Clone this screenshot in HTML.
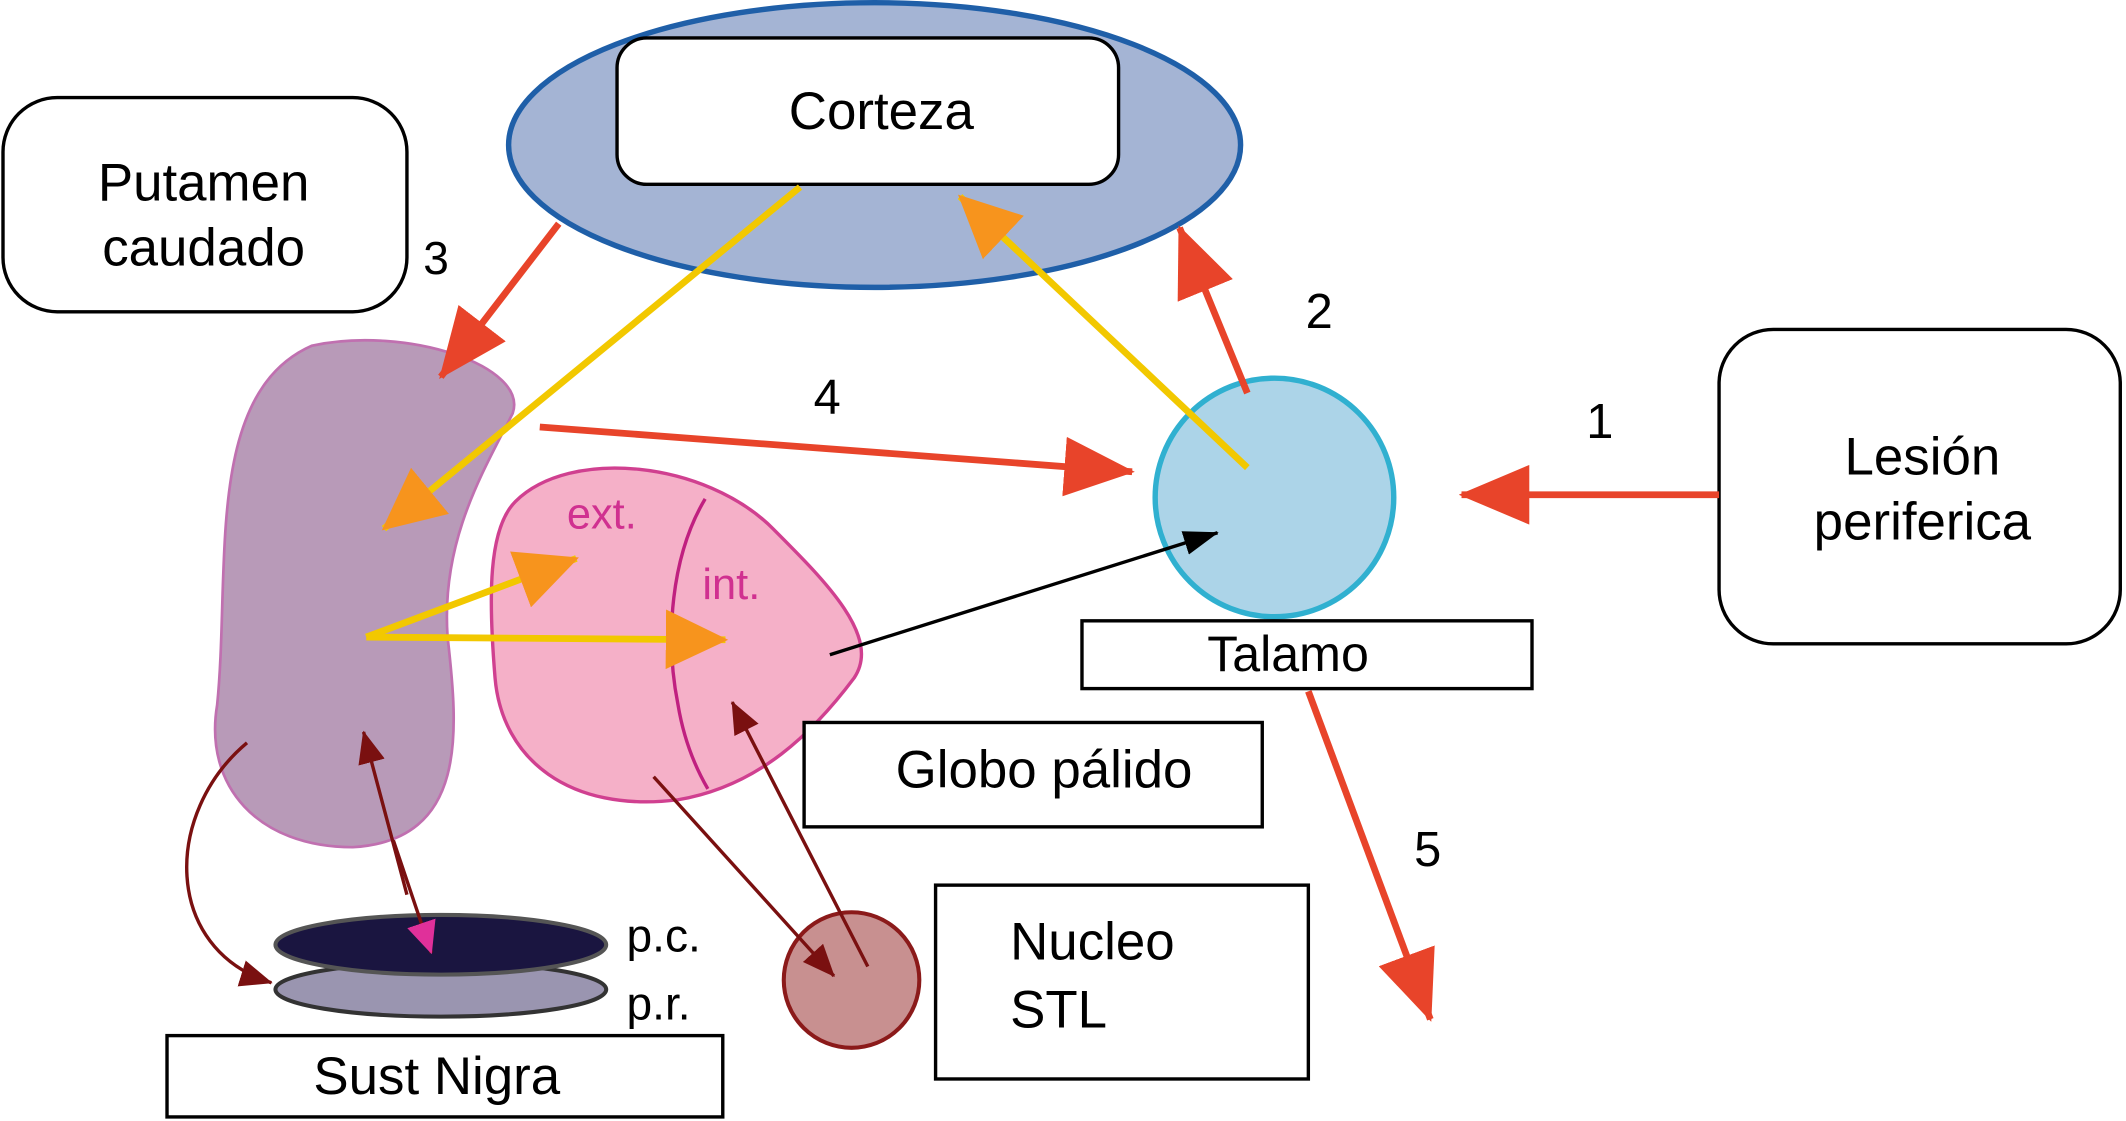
<!DOCTYPE html>
<html><head><meta charset="utf-8"><style>html,body{margin:0;padding:0;background:#fff}svg{display:block}text{font-family:"Liberation Sans",sans-serif}</style></head><body>
<svg width="2126" height="1121" viewBox="0 0 1568 827" xmlns="http://www.w3.org/2000/svg">
<defs>
<marker id="r" markerUnits="userSpaceOnUse" markerWidth="52" markerHeight="44" refX="50" refY="22" orient="auto"><path d="M0,0 L52,22 L0,44 Z" fill="#e8442a"/></marker>
<marker id="o" markerUnits="userSpaceOnUse" markerWidth="46" markerHeight="44" refX="44" refY="22" orient="auto"><path d="M0,0 L46,22 L0,44 Z" fill="#f7941d"/></marker>
<marker id="k" markerUnits="userSpaceOnUse" markerWidth="26" markerHeight="18" refX="25" refY="9" orient="auto"><path d="M0,0 L26,9 L0,18 Z" fill="#000"/></marker>
<marker id="d" markerUnits="userSpaceOnUse" markerWidth="24" markerHeight="20" refX="23" refY="10" orient="auto"><path d="M0,0 L24,10 L0,20 Z" fill="#7a1010"/></marker>
<marker id="m" markerUnits="userSpaceOnUse" markerWidth="24" markerHeight="22" refX="23" refY="11" orient="auto"><path d="M0,0 L24,11 L0,22 Z" fill="#e0309a"/></marker>
</defs>
<ellipse cx="645" cy="107" rx="270" ry="105" fill="#a4b4d4" stroke="#1f5fa8" stroke-width="4"/>
<rect x="455" y="28" width="370" height="108" rx="22" fill="#fff" stroke="#000" stroke-width="2.5"/>
<text x="650" y="95" font-size="39" text-anchor="middle">Corteza</text>
<rect x="2" y="72" width="298" height="158" rx="40" fill="#fff" stroke="#000" stroke-width="2.5"/>
<text x="150" y="148" font-size="39" text-anchor="middle">Putamen</text>
<text x="150" y="196" font-size="39" text-anchor="middle">caudado</text>
<text x="312" y="202" font-size="34">3</text>
<path d="M230,255 C300,240 390,270 378,305 C355,350 325,400 330,470 C338,540 345,620 260,625 C190,625 150,580 160,520 C170,420 150,290 230,255 Z" fill="#b89ab8" stroke="#c070b0" stroke-width="2"/>
<path d="M380,370 C420,330 520,340 570,390 C610,430 650,470 630,500 C600,540 560,580 500,590 C420,600 370,560 365,500 C360,440 360,390 380,370 Z" fill="#f5b0c8" stroke="#d04090" stroke-width="2.5"/>
<path d="M520,368 C495,410 490,470 500,520 C505,550 515,570 522,582" fill="none" stroke="#c02080" stroke-width="2.5"/>
<text x="418" y="390" font-size="32" fill="#d03090">ext.</text>
<text x="518" y="442" font-size="32" fill="#d03090">int.</text>
<circle cx="940" cy="367" r="88" fill="#acd4e8" stroke="#30b0d0" stroke-width="4"/>
<rect x="798" y="458" width="332" height="50" fill="#fff" stroke="#000" stroke-width="2.5"/>
<text x="950" y="495" font-size="37" text-anchor="middle">Talamo</text>
<rect x="1268" y="243" width="296" height="232" rx="40" fill="#fff" stroke="#000" stroke-width="2.5"/>
<text x="1418" y="350" font-size="39" text-anchor="middle">Lesión</text>
<text x="1418" y="398" font-size="39" text-anchor="middle">periferica</text>
<text x="1170" y="323" font-size="36">1</text>
<text x="963" y="242" font-size="36">2</text>
<text x="600" y="305" font-size="36">4</text>
<text x="1043" y="639" font-size="36">5</text>
<rect x="593" y="533" width="338" height="77" fill="#fff" stroke="#000" stroke-width="2.5"/>
<text x="770" y="581" font-size="39" text-anchor="middle">Globo pálido</text>
<rect x="690" y="653" width="275" height="143" fill="#fff" stroke="#000" stroke-width="2.5"/>
<text x="745" y="708" font-size="39">Nucleo</text>
<text x="745" y="758" font-size="39">STL</text>
<circle cx="628" cy="723" r="50" fill="#c89090" stroke="#8b1a1a" stroke-width="3"/>
<ellipse cx="325" cy="730" rx="122" ry="20" fill="#9a95b0" stroke="#333" stroke-width="3"/>
<ellipse cx="325" cy="697" rx="122" ry="22" fill="#1a1540" stroke="#555" stroke-width="3"/>
<text x="462" y="702" font-size="34">p.c.</text>
<text x="462" y="752" font-size="34">p.r.</text>
<rect x="123" y="764" width="410" height="60" fill="#fff" stroke="#000" stroke-width="2.5"/>
<text x="322" y="807" font-size="39" text-anchor="middle">Sust Nigra</text>
<g stroke="#e8442a" stroke-width="5" fill="none">
<line x1="412" y1="165" x2="325" y2="278" marker-end="url(#r)"/>
<line x1="398" y1="315" x2="835" y2="348" marker-end="url(#r)"/>
<line x1="920" y1="290" x2="870" y2="168" marker-end="url(#r)"/>
<line x1="1268" y1="365" x2="1078" y2="365" marker-end="url(#r)"/>
<line x1="965" y1="510" x2="1055" y2="752" marker-end="url(#r)"/>
</g>
<g stroke="#f2c800" stroke-width="5" fill="none">
<line x1="590" y1="138" x2="283" y2="390" marker-end="url(#o)"/>
<line x1="920" y1="345" x2="708" y2="145" marker-end="url(#o)"/>
<line x1="270" y1="470" x2="425" y2="412" marker-end="url(#o)"/>
<line x1="270" y1="470" x2="535" y2="472" marker-end="url(#o)"/>
</g>
<line x1="612" y1="483" x2="898" y2="393" stroke="#000" stroke-width="2.5" marker-end="url(#k)"/>
<g stroke="#7a1010" stroke-width="2.5" fill="none">
<path d="M182,548 C120,600 120,700 200,725" marker-end="url(#d)"/>
<line x1="300" y1="660" x2="268" y2="540" marker-end="url(#d)"/>
<line x1="290" y1="620" x2="318" y2="703" marker-end="url(#m)"/>
<line x1="482" y1="573" x2="615" y2="720" marker-end="url(#d)"/>
<line x1="640" y1="713" x2="540" y2="518" marker-end="url(#d)"/>
</g>
</svg>
</body></html>
